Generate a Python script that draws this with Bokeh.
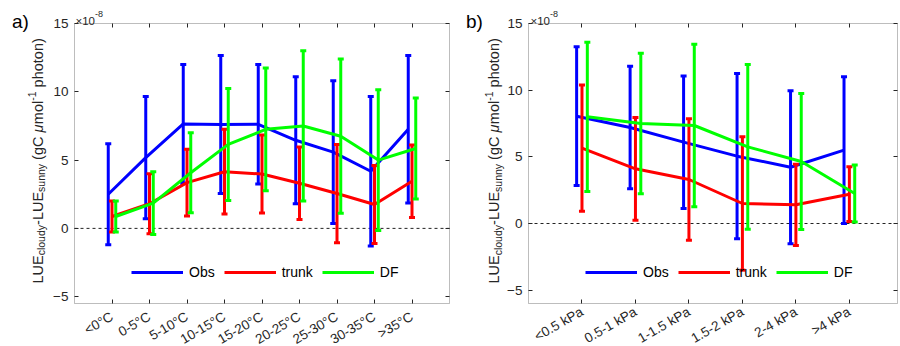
import math
from bokeh.plotting import figure
from bokeh.models import (Range1d, LinearAxis, FixedTicker, Label, Legend,
                          LegendItem, ColumnDataSource, BoxAnnotation)
from bokeh.layouts import row
from bokeh.embed import file_html
from bokeh.resources import INLINE

# ---------------- data (values in units of 1e-8 gC umol-1 photon) ----------------
temp_bins = ["<0°C", "0-5°C", "5-10°C", "10-15°C", "15-20°C", "20-25°C",
             "25-30°C", "30-35°C", ">35°C"]
obs_temp_mean = [2.5, 5.18, 7.65, 7.6, 7.62, 6.45, 5.58, 4.18, 7.25]
obs_temp_sd = [3.7, 4.47, 4.35, 5.05, 4.38, 4.65, 5.22, 5.47, 5.4]
trunk_temp_mean = [0.87, 1.8, 3.35, 4.15, 3.98, 3.3, 2.55, 1.75, 3.45]
trunk_temp_sd = [1.13, 2.2, 2.45, 3.1, 2.86, 2.65, 3.6, 2.85, 2.65]
df_temp_mean = [0.87, 1.85, 4.07, 6.15, 7.25, 7.5, 6.75, 5.0, 5.85]
df_temp_sd = [1.13, 2.3, 2.93, 4.1, 4.5, 5.5, 5.65, 5.15, 3.7]

vpd_bins = ["<0.5 kPa", "0.5-1 kPa", "1-1.5 kPa", "1.5-2 kPa", "2-4 kPa", ">4 kPa"]
obs_vpd_mean = [8.05, 7.2, 6.1, 5.05, 4.22, 5.5]
obs_vpd_sd = [5.2, 4.6, 4.97, 6.2, 5.73, 5.5]
trunk_vpd_mean = [5.65, 4.1, 3.3, 1.5, 1.4, 2.2]
trunk_vpd_sd = [4.73, 3.85, 4.55, 5.0, 3.05, 2.05]
df_vpd_mean = [8.0, 7.5, 7.35, 5.75, 4.65, 2.25]
df_vpd_sd = [5.6, 5.27, 6.1, 6.18, 5.1, 2.13]

series_names = ["Obs", "trunk", "DF"]
series_colors = ["#0000ff", "#ff0000", "#00ff00"]
series_offsets = [-0.1, 0.0, 0.1]
y_ticks = [-5, 0, 5, 10, 15]

# ---------------- helpers ----------------
FONT = "Liberation Sans"
AXC = "#262626"
W, H = 450, 346
AW = {" ": 278, "(": 333, ")": 333, "-": 333, "C": 722, "E": 667, "L": 556,
      "U": 722, "c": 500, "d": 556, "g": 556, "h": 556, "l": 222, "m": 833,
      "n": 556, "o": 556, "p": 556, "s": 500, "t": 278, "u": 556, "y": 500,
      "μ": 576, "×": 584}


def tw(s, size):
    return sum(AW.get(ch, 556) for ch in s) * size / 1000.0


def lab(p, x, y, text, size, **kw):
    opts = dict(text_font=FONT, text_font_size=f"{size}px", text_color=AXC,
                text_align="left", text_baseline="alphabetic")
    opts.update(kw)
    p.add_layout(Label(x=x, y=y, x_units="screen", y_units="screen", text=text, **opts))


def add_ylabel(p, x0, y0):
    M, S = 14.5, 10.5
    pieces = [("LUE", M, 0, "normal"), ("cloudy", S, -3.5, "normal"),
              ("-LUE", M, 0, "normal"), ("sunny", S, -3.5, "normal"),
              (" ", M, 0, "normal"), ("(gC", M, 0, "normal"), (" ", M, 0, "normal"),
              ("μ", M, 0, "italic"), ("mol", M, 0, "normal"), ("-1", S, 5.5, "normal"),
              (" ", M, 0, "normal"), ("photon)", M, 0, "normal")]
    cur = y0
    for text, size, shift, style in pieces:
        if text.strip():
            lab(p, x0 - shift, cur, text, size, angle=math.pi / 2,
                text_font_style=style)
        cur += tw(text, size)


def make_panel(tag, cats, means, sds, ylim, xmax, box, ylab_x, tag_x, exp_x, standoff):
    # box = (left, right, top, bottom) of the axes box in canvas pixels
    L, R, T, B = box
    n = len(cats)
    xs = list(range(1, n + 1))
    x0, x1 = 0.0, xmax
    y0, y1 = ylim
    kx = (R - L) / (x1 - x0)
    ky = (B - T) / (y1 - y0)
    p = figure(width=W, height=H, output_backend="svg", toolbar_location=None,
               x_range=Range1d(x0 - L / kx, x1 + (W - R) / kx),
               y_range=Range1d(y0 - (H - B) / ky, y1 + T / ky),
               min_border=0, x_axis_type=None, y_axis_type=None)
    p.grid.visible = False
    p.outline_line_color = None
    p.background_fill_color = "white"
    p.border_fill_color = "white"

    # axes drawn at the box edges
    blank_x = {i: "" for i in xs}
    blank_y = {v: "" for v in y_ticks}
    bottom = LinearAxis(ticker=FixedTicker(ticks=xs), fixed_location=y0,
                        major_label_overrides=dict(zip(xs, cats)),
                        major_label_orientation=math.radians(30),
                        major_label_standoff=standoff,
                        major_label_text_font=FONT,
                        major_label_text_font_size="13.5px",
                        major_label_text_color=AXC)
    left = LinearAxis(ticker=FixedTicker(ticks=y_ticks), fixed_location=x0,
                      major_label_standoff=6, major_label_text_font=FONT,
                      major_label_text_font_size="13.5px",
                      major_label_text_color=AXC)
    top = LinearAxis(ticker=FixedTicker(ticks=xs), fixed_location=y1,
                     major_label_overrides=blank_x)
    rgt = LinearAxis(ticker=FixedTicker(ticks=y_ticks), fixed_location=x1,
                     major_label_overrides=blank_y)
    p.add_layout(bottom, "below")
    p.add_layout(left, "left")
    p.add_layout(top, "above")
    p.add_layout(rgt, "right")
    for ax in [bottom, left, top, rgt]:
        ax.major_tick_in = 4
        ax.major_tick_out = 0
        ax.minor_tick_line_color = None
        ax.axis_line_color = None
        ax.major_tick_line_color = AXC
    p.add_layout(BoxAnnotation(left=x0, right=x1, bottom=y0, top=y1,
                               fill_color=None, line_color=AXC, line_width=1))

    # zero line
    p.line([x0, x1], [0, 0], line_color="#222222", line_dash="3 3", line_width=1)

    items = []
    for name, col, off, m, s in zip(series_names, series_colors, series_offsets, means, sds):
        x = [v + off for v in xs]
        lo = [a - b for a, b in zip(m, s)]
        hi = [a + b for a, b in zip(m, s)]
        src = ColumnDataSource(dict(x=x, m=m, lo=lo, hi=hi))
        ln = p.line("x", "m", source=src, line_color=col, line_width=3,
                    line_join="round")
        p.segment("x", "lo", "x", "hi", source=src, line_color=col, line_width=3)
        p.scatter("x", "lo", source=src, marker="dash", size=6, line_color=col,
                  line_width=3)
        p.scatter("x", "hi", source=src, marker="dash", size=6, line_color=col,
                  line_width=3)
        items.append(LegendItem(label=name, renderers=[ln]))

    leg = Legend(items=items, orientation="horizontal",
                 location=(L + 57, H - 282),
                 glyph_width=52, label_standoff=6, spacing=9, padding=0,
                 border_line_color=None, background_fill_alpha=0,
                 label_text_font=FONT, label_text_font_size="14px",
                 label_text_color="black")
    p.add_layout(leg, "center")

    # y label, exponent and panel tag
    add_ylabel(p, ylab_x, H - 283)
    lab(p, exp_x, H - 20, "×10", 11.5)
    lab(p, exp_x + tw("×10", 11.5), H - 13, "-8", 9)
    lab(p, tag_x, H - 21, tag, 19, text_color="black")
    return p


pa = make_panel("a)", temp_bins,
                [obs_temp_mean, trunk_temp_mean, df_temp_mean],
                [obs_temp_sd, trunk_temp_sd, df_temp_sd],
                (-5.5, 15), 10, (74, 449, 23, 303), 37, 11.5, 75, 12)
pb = make_panel("b)", vpd_bins,
                [obs_vpd_mean, trunk_vpd_mean, df_vpd_mean],
                [obs_vpd_sd, trunk_vpd_sd, df_vpd_sd],
                (-6, 15), 6.9, (78, 447, 23, 303), 43.5, 15.5, 80, 7)

layout = row(pa, pb)
open("out.html", "w").write(file_html(layout, INLINE))
